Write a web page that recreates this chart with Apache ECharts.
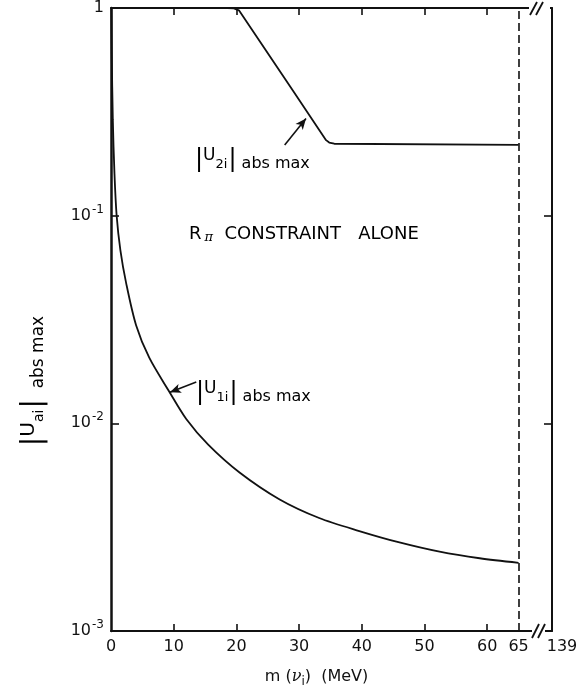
<!DOCTYPE html>
<html>
<head>
<meta charset="utf-8">
<script src="https://cdn.jsdelivr.net/npm/echarts@6/dist/echarts.min.js"></script>
<style>
html,body{margin:0;padding:0;background:#fff}
#c{width:581px;height:693px}
</style>
</head>
<body>
<div id="c"></div>
<script>
// Upper bound on |U_1i| versus heavy-neutrino mass m(nu_i) in MeV
const massU1 = [0.05, 0.12, 0.29, 0.55, 0.9, 1.5, 2.4, 4.0, 6.1, 9.3, 12.0, 15.5, 20.5, 26.9, 33.2, 39.6, 46.0, 52.4, 58.8, 65.0];
const boundU1 = [1.0, 0.6, 0.29, 0.16, 0.1, 0.068, 0.0476, 0.0297, 0.0207, 0.0142, 0.0105, 0.0079, 0.0058, 0.0043, 0.0035, 0.00303, 0.00267, 0.00241, 0.00224, 0.00213];

// Upper bound on |U_2i|
const massU2 = [0, 18.6, 19.6, 20.4, 29.0, 34.3, 34.8, 35.6, 65.0];
const boundU2 = [1.0, 1.0, 0.995, 0.975, 0.401, 0.231, 0.225, 0.222, 0.219];

// Bottom axis tick labels (the last one sits past the axis break)
const xLabelValues = [0, 10, 20, 30, 40, 50, 60, 65, 70.33];
const xLabelTexts = ['0', '10', '20', '30', '40', '50', '60', '65', '139'];
const xTickValues = [10, 20, 30, 40, 50, 60];
const xMax = 70.33;
const cutMass = 65;

// Pointer arrows for the two curve labels: [tail, head] as [mass, bound]
const arrowU2 = [[27.7, 0.219], [31.1, 0.294]];
const arrowU1 = [[13.6, 0.0158], [9.4, 0.0141]];

const ink = '#111';
const font = 'DejaVu Sans';

const zip = (xs, ys) => xs.map((x, i) => [x, ys[i]]);

const chart = echarts.init(document.getElementById('c'), null, {renderer: 'canvas'});

const expLabel = v => {
  const e = Math.round(Math.log10(v));
  if (e === 0) return '1';
  return '10{s|' + e + '}';
};

const axisLineStyle = {color: ink, width: 2};

const option = {
  backgroundColor: '#fff',
  animation: false,
  textStyle: {fontFamily: font, color: ink},
  grid: {left: 111, right: 29, top: 7, bottom: 59},
  xAxis: [
    {
      type: 'value', min: 0, max: xMax, position: 'bottom',
      axisLine: {show: true, onZero: false, lineStyle: axisLineStyle},
      axisTick: {show: true, inside: true, length: 7, customValues: xTickValues, lineStyle: {color: ink, width: 1.6}},
      axisLabel: {
        show: true, margin: 8, color: ink, fontSize: 16, fontFamily: font,
        customValues: xLabelValues,
        formatter: v => {
          const i = xLabelValues.findIndex(x => Math.abs(x - v) < 1e-6);
          const t = i >= 0 ? xLabelTexts[i] : '';
          return t === '139' ? '{far|139}' : t;
        },
        rich: {far: {fontSize: 16, fontFamily: font, color: ink, padding: [0, 0, 0, 20]}}
      },
      splitLine: {show: false},
      name: 'm ({nu|ν}{sub|i})  (MeV)',
      nameLocation: 'middle', nameGap: 35,
      nameTextStyle: {
        fontSize: 16, fontFamily: font, color: ink,
        padding: [0, 30, 0, 0],
        rich: {
          nu: {fontSize: 16, fontFamily: 'DejaVu Serif', fontStyle: 'italic', color: ink},
          sub: {fontSize: 12, fontFamily: font, color: ink, verticalAlign: 'bottom', padding: [10, 0, 0, 0]}
        }
      }
    },
    {
      type: 'value', min: 0, max: xMax, position: 'top',
      axisLine: {show: true, onZero: false, lineStyle: axisLineStyle},
      axisTick: {show: true, inside: true, length: 7, customValues: xTickValues, lineStyle: {color: ink, width: 1.6}},
      axisLabel: {show: false},
      splitLine: {show: false}
    }
  ],
  yAxis: [
    {
      type: 'log', logBase: 10, min: 0.001, max: 1, position: 'left',
      axisLine: {show: true, onZero: false, lineStyle: {color: ink, width: 2.5}},
      axisTick: {show: true, inside: true, length: 8, lineStyle: {color: ink, width: 1.6}},
      minorTick: {show: false},
      axisLabel: {
        show: true, margin: 7, color: ink, fontFamily: font, fontSize: 16,
        formatter: expLabel,
        rich: {
          s: {fontSize: 12, fontFamily: font, color: ink, verticalAlign: 'top', padding: [0, 0, 12, 1]}
        }
      },
      splitLine: {show: false}
    },
    {
      type: 'log', logBase: 10, min: 0.001, max: 1, position: 'right',
      axisLine: {show: true, onZero: false, lineStyle: axisLineStyle},
      axisTick: {show: true, inside: true, length: 8, lineStyle: {color: ink, width: 1.6}},
      minorTick: {show: false},
      axisLabel: {show: false},
      splitLine: {show: false}
    }
  ],
  series: [
    {
      name: '|U1i| abs max', type: 'line', xAxisIndex: 0, yAxisIndex: 0,
      data: zip(massU1, boundU1),
      symbol: 'none', smooth: 0.3, silent: true,
      lineStyle: {color: ink, width: 1.8},
      markLine: {
        silent: true, symbol: ['none', 'arrow'], symbolSize: [7, 11],
        label: {show: false},
        lineStyle: {color: ink, width: 1.6, type: 'solid'},
        data: [[{coord: arrowU1[0]}, {coord: arrowU1[1]}]]
      }
    },
    {
      name: '|U2i| abs max', type: 'line', xAxisIndex: 0, yAxisIndex: 0,
      data: zip(massU2, boundU2),
      symbol: 'none', smooth: false, silent: true,
      lineStyle: {color: ink, width: 1.8},
      markLine: {
        silent: true, symbol: ['none', 'arrow'], symbolSize: [7, 11],
        label: {show: false},
        lineStyle: {color: ink, width: 1.6, type: 'solid'},
        data: [
          [{coord: arrowU2[0]}, {coord: arrowU2[1]}]
        ]
      }
    },
    {
      name: 'cut', type: 'line', xAxisIndex: 0, yAxisIndex: 0, data: [],
      markLine: {
        silent: true, symbol: ['none', 'none'],
        label: {show: false},
        lineStyle: {color: ink, width: 1.6, type: [8, 4]},
        data: [{xAxis: cutMass}]
      }
    }
  ]
};

chart.setOption(option);

// Axis-break marks and free-standing annotations
const topY = chart.convertToPixel({gridIndex: 0}, [0, 1])[1];
const botY = chart.convertToPixel({gridIndex: 0}, [0, 0.001])[1];
const rightX = chart.convertToPixel({gridIndex: 0}, [xMax, 1])[0];

const slash = (x1, y1, x2, y2) => ({
  type: 'line', z: 110,
  shape: {x1, y1, x2, y2},
  style: {stroke: ink, lineWidth: 1.8}
});

const annStyle = {
  bar: {fontSize: 24, fontFamily: font, color: ink, lineHeight: 26, verticalAlign: 'middle'},
  u: {fontSize: 17, fontFamily: font, color: ink, lineHeight: 22, verticalAlign: 'top'},
  sub: {fontSize: 13, fontFamily: font, color: ink, lineHeight: 14, verticalAlign: 'bottom', padding: [0, 1, 2, 0]},
  abs: {fontSize: 16, fontFamily: font, color: ink, lineHeight: 16, verticalAlign: 'bottom', padding: [0, 0, 1, 0]}
};

const titleStyle = {
  bar: {fontSize: 28, fontFamily: font, color: ink, lineHeight: 30, verticalAlign: 'middle'},
  u: {fontSize: 20, fontFamily: font, color: ink, lineHeight: 26, verticalAlign: 'top'},
  sub: {fontSize: 14, fontFamily: font, color: ink, lineHeight: 15, verticalAlign: 'bottom', padding: [0, 1, 3, 0]},
  abs: {fontSize: 17, fontFamily: font, color: ink, lineHeight: 17, verticalAlign: 'bottom', padding: [0, 0, 2, 0]}
};

chart.setOption({
  graphic: [
    // break in the top edge
    {type: 'rect', z: 105, shape: {x: rightX - 23, y: topY - 3, width: 21, height: 6}, style: {fill: '#fff'}},
    slash(rightX - 22, topY + 7, rightX - 15, topY - 6),
    slash(rightX - 16, topY + 7, rightX - 9, topY - 6),
    // break in the bottom edge
    {type: 'rect', z: 105, shape: {x: rightX - 20, y: botY - 3, width: 13, height: 6}, style: {fill: '#fff'}},
    slash(rightX - 20, botY + 7, rightX - 13, botY - 7),
    slash(rightX - 14, botY + 7, rightX - 7, botY - 7),
    // curve labels
    {
      type: 'text', z: 110, x: 195, y: 160,
      style: {
        text: '{bar||}{u|U}{sub|2i}{bar||}{abs| abs max}',
        verticalAlign: 'middle', align: 'left',
        rich: annStyle
      }
    },
    {
      type: 'text', z: 110, x: 196, y: 393,
      style: {
        text: '{bar||}{u|U}{sub|1i}{bar||}{abs| abs max}',
        verticalAlign: 'middle', align: 'left',
        rich: annStyle
      }
    },
    {
      type: 'text', z: 110, x: 189, y: 234,
      style: {
        text: '{r|R}{pi|π}{t|  CONSTRAINT   ALONE}',
        verticalAlign: 'middle', align: 'left',
        rich: {
          r: {fontSize: 18, fontFamily: font, color: ink, lineHeight: 20, verticalAlign: 'middle'},
          pi: {fontSize: 13, fontFamily: 'DejaVu Serif', fontStyle: 'italic', color: ink, lineHeight: 14, verticalAlign: 'bottom', padding: [0, 0, 0, 3]},
          t: {fontSize: 18, fontFamily: font, color: ink, lineHeight: 20, verticalAlign: 'middle'}
        }
      }
    },
    // vertical axis title
    {
      type: 'text', z: 110, x: 34, y: 381, rotation: Math.PI / 2,
      style: {
        text: '{bar||}{u|U}{sub|ai}{bar||}{abs|  abs max}',
        verticalAlign: 'middle', align: 'center',
        rich: titleStyle
      }
    }
  ]
});
</script>
</body>
</html>
